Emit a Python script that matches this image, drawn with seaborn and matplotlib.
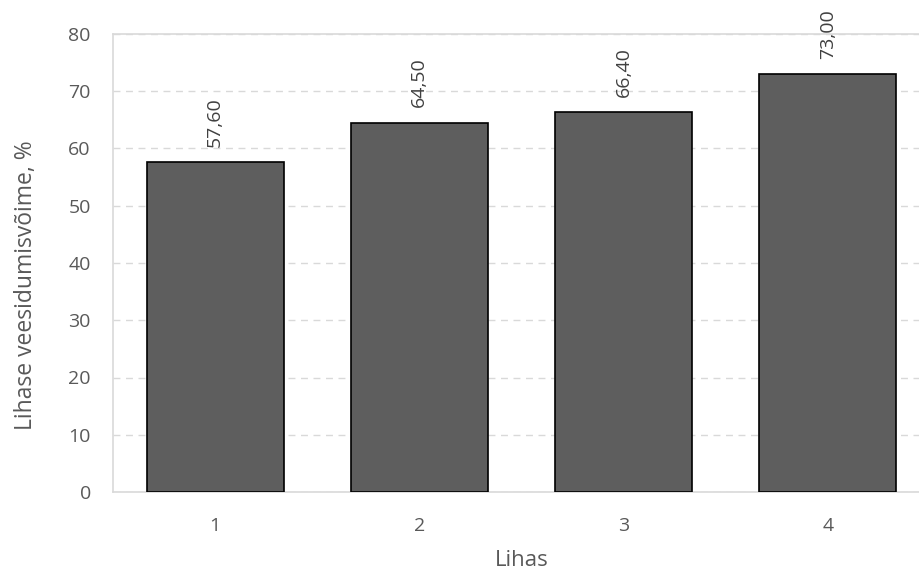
import matplotlib
matplotlib.use("Agg")
import matplotlib.pyplot as plt
import seaborn as sns
import pandas as pd

categories = ["1", "2", "3", "4"]
values = [57.60, 64.50, 66.40, 73.00]
y_ticks = [0, 10, 20, 30, 40, 50, 60, 70, 80]

df = pd.DataFrame({"Lihas": categories, "value": values})

sns.set_theme(style="white")
plt.rcParams["font.family"] = ["Open Sans", "DejaVu Sans"]

text_color = "#595959"
grid_color = "#d9d9d9"

fig = plt.figure(figsize=(9.2, 5.73), dpi=100)
ax = fig.add_axes([113 / 920, 1 - 492 / 573, 817 / 920, (492 - 34) / 573])

sns.barplot(data=df, x="Lihas", y="value", color="#5e5e5e", saturation=1,
            width=0.67, edgecolor="black", linewidth=1.2, ax=ax, zorder=3)

ax.set_xlim(-0.5, 3.5)
ax.set_ylim(0, 80)
ax.set_yticks(y_ticks)
ax.yaxis.grid(True, linestyle=(0, (5, 4)), color=grid_color, linewidth=1, zorder=0)
ax.set_axisbelow(True)

for side in ["left", "bottom", "top"]:
    ax.spines[side].set_color(grid_color)
    ax.spines[side].set_linewidth(1.2)
ax.spines["right"].set_visible(False)

ax.tick_params(axis="both", length=0, labelsize=14, labelcolor=text_color)
ax.tick_params(axis="y", pad=16)
ax.tick_params(axis="x", pad=18)

ax.set_xlabel("Lihas", fontsize=16, color=text_color, labelpad=11)
ax.set_ylabel("Lihase veesidumisvõime, %", fontsize=16.5, color=text_color, labelpad=22)
ax.yaxis.label.set_y(0.452)

# value labels above each bar, rotated vertically
for i, v in enumerate(values):
    ax.annotate(f"{v:.2f}".replace(".", ","), xy=(i, v), xytext=(0, 11),
                textcoords="offset points", rotation=90, ha="center", va="bottom",
                fontsize=14, color="#404040")

fig.savefig("out.png", dpi=100)
